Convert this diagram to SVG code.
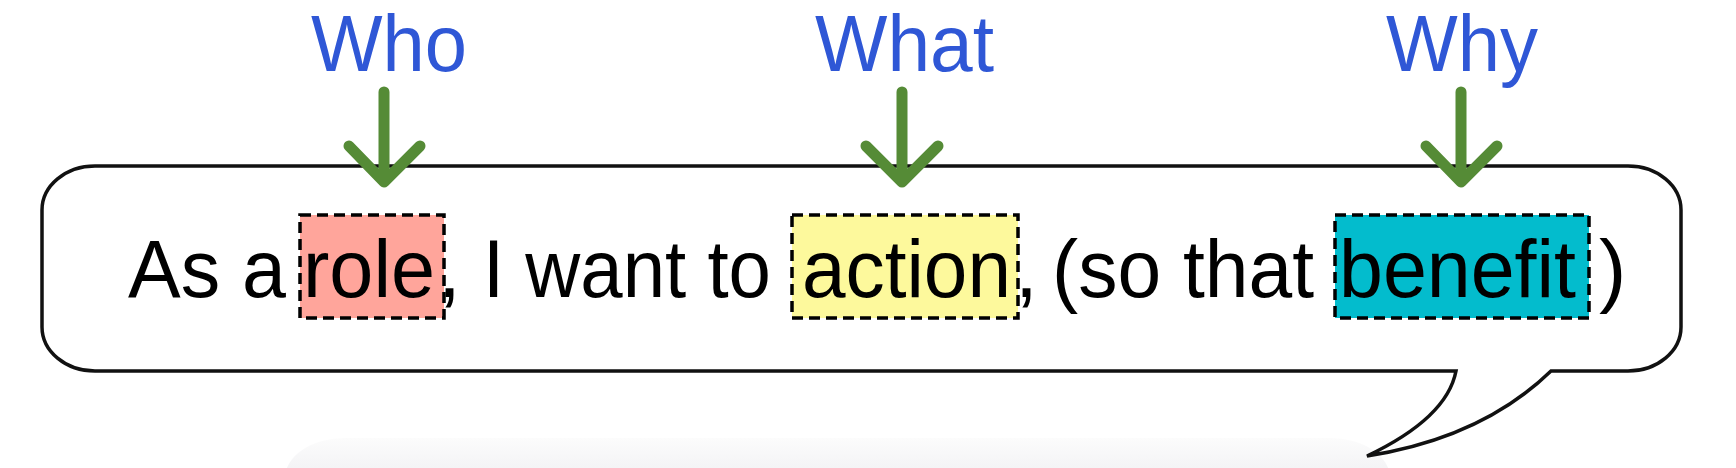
<svg xmlns="http://www.w3.org/2000/svg" width="1736" height="468" viewBox="0 0 1736 468">
  <style>
    .lbl { font-family: "Liberation Sans", Arial, sans-serif; font-size: 80px; fill: #2f57d6; }
    .txt { font-family: "Liberation Sans", Arial, sans-serif; font-size: 82px; fill: #000; }
    .box { stroke: #000; stroke-width: 3.5; stroke-dasharray: 11 6; }
    .arrow { fill: none; stroke: #558b36; stroke-width: 11; stroke-linecap: round; stroke-linejoin: round; }
  </style>
  <defs>
    <linearGradient id="shade" x1="0" y1="0" x2="0" y2="1">
      <stop offset="0" stop-color="#fcfcfc"/>
      <stop offset="1" stop-color="#e6e6eb"/>
    </linearGradient>
  </defs>
  <rect width="1736" height="468" fill="#ffffff"/>
  <g id="shadow">
    <rect x="285" y="438" width="1105" height="80" rx="60" ry="42" fill="url(#shade)"/>
  </g>
  <g id="bubble">
    <path d="M95,166 L1628,166 A53,44 0 0 1 1681,210 L1681,327 A53,44 0 0 1 1628,371 L1551,371 Q1482,438 1367,456 Q1447,418 1456,371 L95,371 A53,44 0 0 1 42,327 L42,210 A53,44 0 0 1 95,166 Z" fill="#ffffff" stroke="#111" stroke-width="3.5" stroke-linejoin="miter"/>
  </g>
  <g id="role">
    <rect class="box" x="300" y="215" width="144" height="103" fill="#ffa59b"/>
  </g>
  <g id="action">
    <rect class="box" x="792" y="215" width="226" height="103" fill="#fdf99c"/>
  </g>
  <g id="benefit">
    <rect class="box" x="1335" y="215" width="254" height="103" fill="#03bccd"/>
  </g>
  <g id="sentence">
    <text class="txt" x="128" y="297" textLength="158" lengthAdjust="spacingAndGlyphs">As a</text>
    <text class="txt" y="297"><tspan x="303" textLength="132" lengthAdjust="spacingAndGlyphs">role</tspan><tspan x="438">,</tspan></text>
    <text class="txt" x="483" y="297" textLength="288" lengthAdjust="spacingAndGlyphs">I want to</text>
    <text class="txt" y="297"><tspan x="802" textLength="209" lengthAdjust="spacingAndGlyphs">action</tspan><tspan x="1015">,</tspan></text>
    <text class="txt" x="1052" y="297" textLength="262" lengthAdjust="spacingAndGlyphs">(so that</text>
    <text class="txt" y="297"><tspan x="1339" textLength="237" lengthAdjust="spacingAndGlyphs">benefit</tspan><tspan x="1599">)</tspan></text>
  </g>
  <g id="who">
    <text class="lbl" x="311" y="71" textLength="156" lengthAdjust="spacingAndGlyphs">Who</text>
  </g>
  <g id="what">
    <text class="lbl" x="815" y="71" textLength="179" lengthAdjust="spacingAndGlyphs">What</text>
  </g>
  <g id="why">
    <text class="lbl" x="1386" y="71" textLength="152" lengthAdjust="spacingAndGlyphs">Why</text>
  </g>
  <g id="connectors">
    <path class="arrow" d="M384,92 L384,178 M349,146 L384,182 L420,146"/>
    <path class="arrow" d="M902,92 L902,178 M866,146 L902,182 L938,146"/>
    <path class="arrow" d="M1461,92 L1461,178 M1426,146 L1461,182 L1497,146"/>
  </g>
</svg>
